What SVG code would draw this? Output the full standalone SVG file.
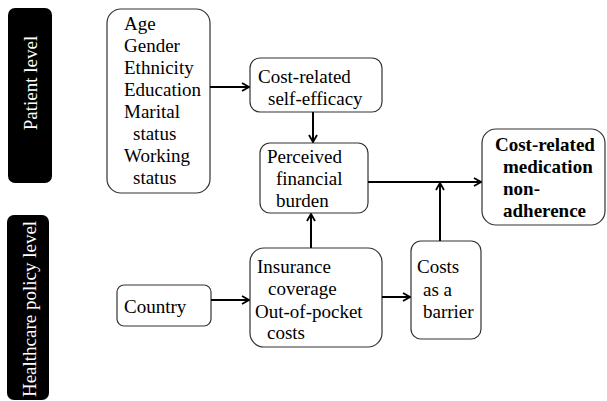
<svg xmlns="http://www.w3.org/2000/svg" width="607" height="401" viewBox="0 0 607 401">
<style>
.box{fill:#fff;stroke:#333;stroke-width:1.2}
.lvl{fill:#000}
text{font-family:'Liberation Serif','Times New Roman','DejaVu Serif',serif;font-size:19px}
.t{fill:#000}
.lt{fill:#fff}
.b{font-weight:bold}
.c{fill:none;stroke:#000;stroke-width:2}
</style>
<defs>
<marker id="ah" viewBox="0 0 10 10" refX="9" refY="5" markerWidth="10" markerHeight="10" markerUnits="userSpaceOnUse" orient="auto">
<polyline points="2,1 9,5 2,9" fill="none" stroke="#000" stroke-width="1.8"/>
</marker>
</defs>
<rect width="607" height="401" fill="#fff"/>
<g id="patient-level">
<rect class="lvl" x="8" y="8" width="44" height="175" rx="7"/>
<text class="lt" font-family="Liberation Serif, serif" transform="translate(37,83) rotate(-90)" text-anchor="middle">Patient level</text>
</g>
<g id="healthcare-level">
<rect class="lvl" x="7" y="215" width="42" height="185" rx="7"/>
<text class="lt" font-family="Liberation Serif, serif" transform="translate(36,309) rotate(-90)" text-anchor="middle">Healthcare policy level</text>
</g>
<g id="demographics">
<rect class="box" x="107" y="9" width="103" height="184" rx="14"/>
<text class="t" font-family="Liberation Serif, serif"><tspan x="124" y="30">Age</tspan><tspan x="124" y="52">Gender</tspan><tspan x="124" y="74">Ethnicity</tspan><tspan x="124" y="96">Education</tspan><tspan x="124" y="118">Marital</tspan><tspan x="133" y="140">status</tspan><tspan x="124" y="162">Working</tspan><tspan x="133" y="184">status</tspan></text>
</g>
<g id="self-efficacy">
<rect class="box" x="250" y="58" width="132" height="54" rx="10"/>
<text class="t" font-family="Liberation Serif, serif"><tspan x="258" y="83">Cost-related</tspan><tspan x="268" y="105">self-efficacy</tspan></text>
</g>
<g id="financial-burden">
<rect class="box" x="260" y="143" width="108" height="70" rx="10"/>
<text class="t" font-family="Liberation Serif, serif"><tspan x="267" y="163">Perceived</tspan><tspan x="276" y="185">financial</tspan><tspan x="276" y="207">burden</tspan></text>
</g>
<g id="outcome">
<rect class="box" x="482" y="129" width="123" height="96" rx="14"/>
<text class="t b" font-family="Liberation Serif, serif"><tspan x="495" y="151">Cost-related</tspan><tspan x="503" y="173">medication</tspan><tspan x="503" y="195">non-</tspan><tspan x="503" y="217">adherence</tspan></text>
</g>
<g id="country">
<rect class="box" x="117" y="285" width="94" height="41" rx="7"/>
<text class="t" font-family="Liberation Serif, serif" x="124" y="313">Country</text>
</g>
<g id="insurance">
<rect class="box" x="250" y="248" width="132" height="99" rx="14"/>
<text class="t" font-family="Liberation Serif, serif"><tspan x="257" y="273">Insurance</tspan><tspan x="268" y="295">coverage</tspan><tspan x="255" y="318">Out-of-pocket</tspan><tspan x="267" y="339">costs</tspan></text>
</g>
<g id="barrier">
<rect class="box" x="411" y="241" width="70" height="98" rx="10"/>
<text class="t" font-family="Liberation Serif, serif"><tspan x="417" y="273">Costs</tspan><tspan x="423" y="296">as a</tspan><tspan x="423" y="318">barrier</tspan></text>
</g>
<g id="connectors">
<line class="c" x1="210" y1="87" x2="249" y2="87" marker-end="url(#ah)"/>
<line class="c" x1="313" y1="112" x2="313" y2="142" marker-end="url(#ah)"/>
<line class="c" x1="368" y1="182" x2="481" y2="182" marker-end="url(#ah)"/>
<line class="c" x1="440" y1="241" x2="440" y2="183" marker-end="url(#ah)"/>
<line class="c" x1="211" y1="300" x2="249" y2="300" marker-end="url(#ah)"/>
<line class="c" x1="311" y1="248" x2="311" y2="214" marker-end="url(#ah)"/>
<line class="c" x1="382" y1="297" x2="410" y2="297" marker-end="url(#ah)"/>
</g>
</svg>
